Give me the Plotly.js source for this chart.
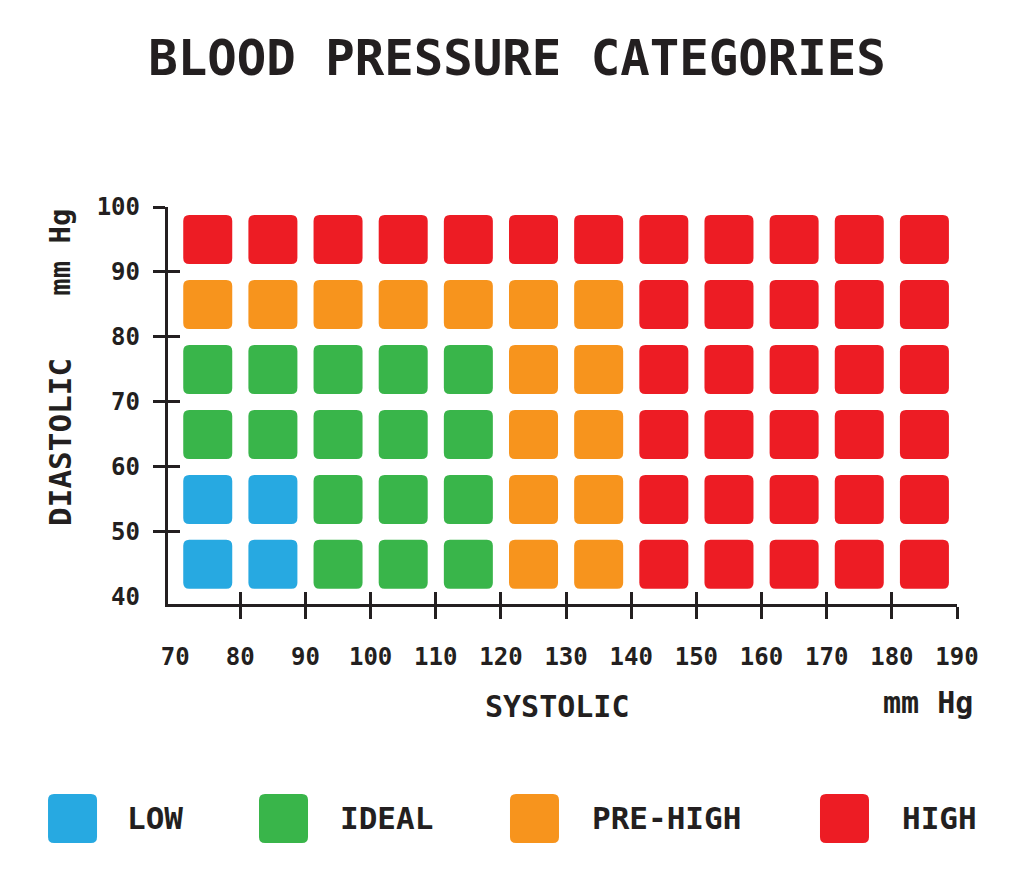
<!DOCTYPE html>
<html>
<head>
<meta charset="utf-8">
<script src="https://cdn.plot.ly/plotly-3.0.1.min.js"></script>
<style>
  body { margin: 0; background: #fff; }
  #plot { width: 1024px; height: 883px; }
</style>
</head>
<body>
<div id="plot"></div>
<script>
/*
Blood pressure categories
*/

var systolicTicks = [70, 80, 90, 100, 110, 120, 130, 140, 150, 160, 170, 180, 190];
var diastolicTicks = [40, 50, 60, 70, 80, 90, 100];

// column / row centres (middle of each 10 mm Hg band)
var systolicBands = [75, 85, 95, 105, 115, 125, 135, 145, 155, 165, 175, 185];
var diastolicBands = [45, 55, 65, 75, 85, 95];

var categories = ["LOW", "IDEAL", "PRE-HIGH", "HIGH"];
var categoryColors = ["#27a9e1", "#39b54a", "#f7941d", "#ed1c24"];

// category index per cell, bottom row (40-50) first
var grid = [
  [0, 0, 1, 1, 1, 2, 2, 3, 3, 3, 3, 3],
  [0, 0, 1, 1, 1, 2, 2, 3, 3, 3, 3, 3],
  [1, 1, 1, 1, 1, 2, 2, 3, 3, 3, 3, 3],
  [1, 1, 1, 1, 1, 2, 2, 3, 3, 3, 3, 3],
  [2, 2, 2, 2, 2, 2, 2, 3, 3, 3, 3, 3],
  [3, 3, 3, 3, 3, 3, 3, 3, 3, 3, 3, 3]
];

var ink = "#231f20";
var mono = "DejaVu Sans Mono";

function roundedSquare(half, r) {
  var a = -half, b = half;
  return "M" + (a + r) + "," + a +
    " L" + (b - r) + "," + a + " Q" + b + "," + a + " " + b + "," + (a + r) +
    " L" + b + "," + (b - r) + " Q" + b + "," + b + " " + (b - r) + "," + b +
    " L" + (a + r) + "," + b + " Q" + a + "," + b + " " + a + "," + (b - r) +
    " L" + a + "," + (a + r) + " Q" + a + "," + a + " " + (a + r) + "," + a + " Z";
}

var cellPath = roundedSquare(24.5, 6);

var shapes = [];
var cellX = [], cellY = [], cellText = [];
grid.forEach(function (row, ri) {
  row.forEach(function (cat, ci) {
    shapes.push({
      type: "path",
      xref: "x", yref: "y",
      xsizemode: "pixel", ysizemode: "pixel",
      xanchor: systolicBands[ci], yanchor: diastolicBands[ri],
      path: cellPath,
      fillcolor: categoryColors[cat],
      line: { width: 0 },
      layer: "above"
    });
    cellX.push(systolicBands[ci]);
    cellY.push(diastolicBands[ri]);
    cellText.push(categories[cat]);
  });
});

// legend row under the chart (paper coordinates)
var legendBoxX = [-0.121, 0.1464, 0.4645, 0.8574];
var legendTextX = [-0.0545, 0.2155, 0.5349, 0.9278];
var legendY = -0.540;

var annotations = [];
categories.forEach(function (name, i) {
  shapes.push({
    type: "path",
    xref: "paper", yref: "paper",
    xsizemode: "pixel", ysizemode: "pixel",
    xanchor: legendBoxX[i], yanchor: legendY,
    path: cellPath,
    fillcolor: categoryColors[i],
    line: { width: 0 }
  });
  annotations.push({
    xref: "paper", yref: "paper",
    x: legendTextX[i], y: legendY,
    xanchor: "left", yanchor: "middle",
    text: name, showarrow: false,
    font: { family: mono, size: 31, color: ink, weight: "bold" }
  });
});

annotations.push(
  {
    xref: "paper", yref: "paper", x: 0.494, y: -0.257,
    xanchor: "center", yanchor: "middle",
    text: "SYSTOLIC", showarrow: false,
    font: { family: mono, size: 30, color: ink, weight: "bold" }
  },
  {
    xref: "paper", yref: "paper", x: 0.963, y: -0.249,
    xanchor: "center", yanchor: "middle",
    text: "mm Hg", showarrow: false,
    font: { family: mono, size: 30, color: ink, weight: "bold" }
  },
  {
    xref: "paper", yref: "paper", x: -0.137, y: 0.408,
    xanchor: "center", yanchor: "middle", textangle: -90,
    text: "DIASTOLIC", showarrow: false,
    font: { family: mono, size: 31, color: ink, weight: "bold" }
  },
  {
    xref: "paper", yref: "paper", x: -0.137, y: 0.887,
    xanchor: "center", yanchor: "middle", textangle: -90,
    text: "mm Hg", showarrow: false,
    font: { family: mono, size: 29, color: ink, weight: "bold" }
  }
);

var xRange = [68.9, 190];
var yRange = [38.9, 100];
var tickFont = { family: mono, size: 24, color: ink, weight: "bold" };

var cells = {
  x: cellX,
  y: cellY,
  text: cellText,
  type: "scatter",
  mode: "markers",
  marker: { size: 40, opacity: 0 },
  hovertemplate: "Systolic %{x}<br>Diastolic %{y}<br>%{text}<extra></extra>",
  showlegend: false
};

var innerTicks = {
  x: [], y: [], xaxis: "x2", yaxis: "y2",
  type: "scatter", mode: "markers", showlegend: false, hoverinfo: "skip"
};

var labelAxes = {
  x: [], y: [], xaxis: "x3", yaxis: "y3",
  type: "scatter", mode: "markers", showlegend: false, hoverinfo: "skip"
};

var data = [cells, innerTicks, labelAxes];

var baseAxis = {
  showgrid: false,
  zeroline: false,
  fixedrange: true
};

var layout = {
  width: 1024,
  height: 883,
  margin: { l: 168, r: 67, t: 207, b: 279 },
  paper_bgcolor: "#ffffff",
  plot_bgcolor: "#ffffff",
  showlegend: false,
  title: {
    text: "BLOOD PRESSURE CATEGORIES",
    xref: "container", yref: "container",
    x: 0.505, y: 0.934,
    xanchor: "center", yanchor: "middle",
    font: { family: mono, size: 49, color: ink, weight: "bold" }
  },
  xaxis: Object.assign({}, baseAxis, {
    range: xRange,
    showline: true, linecolor: ink, linewidth: 2.5,
    ticks: "outside", ticklen: 12, tickwidth: 2.5, tickcolor: ink,
    tickvals: systolicTicks.slice(1),
    showticklabels: false
  }),
  yaxis: Object.assign({}, baseAxis, {
    range: yRange,
    showline: true, linecolor: ink, linewidth: 2.5,
    ticks: "outside", ticklen: 12, tickwidth: 2.5, tickcolor: ink,
    tickvals: diastolicTicks.slice(1),
    showticklabels: false
  }),
  xaxis2: Object.assign({}, baseAxis, {
    overlaying: "x", anchor: "y2", range: xRange,
    showline: false,
    ticks: "inside", ticklen: 12, tickwidth: 2.5, tickcolor: ink,
    tickvals: systolicTicks.slice(1),
    showticklabels: false
  }),
  yaxis2: Object.assign({}, baseAxis, {
    overlaying: "y", anchor: "x2", range: yRange,
    showline: false,
    ticks: "inside", ticklen: 12, tickwidth: 2.5, tickcolor: ink,
    tickvals: diastolicTicks.slice(1),
    showticklabels: false
  }),
  xaxis3: Object.assign({}, baseAxis, {
    overlaying: "x", anchor: "y3", range: xRange,
    showline: false, ticks: "",
    tickvals: systolicTicks,
    ticktext: systolicTicks.map(String),
    ticklabelstandoff: 36,
    tickfont: tickFont
  }),
  yaxis3: Object.assign({}, baseAxis, {
    overlaying: "y", anchor: "x3", range: yRange,
    showline: false, ticks: "",
    tickvals: diastolicTicks,
    ticktext: diastolicTicks.map(String),
    ticklabelstandoff: 27,
    tickfont: tickFont
  }),
  shapes: shapes,
  annotations: annotations
};

Plotly.newPlot("plot", data, layout, { displayModeBar: false });
</script>
</body>
</html>
